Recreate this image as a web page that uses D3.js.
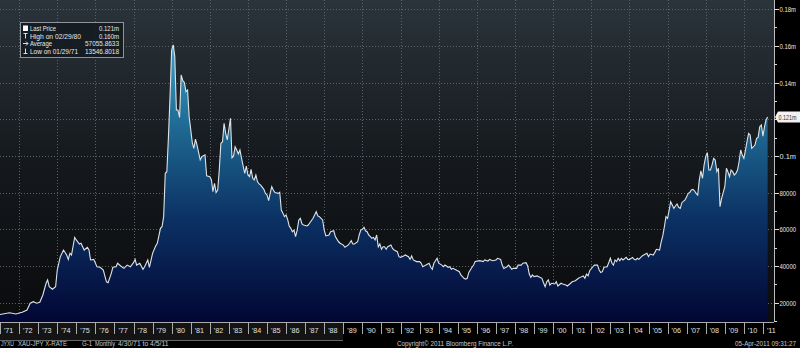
<!DOCTYPE html>
<html><head><meta charset="utf-8">
<script src="https://cdn.jsdelivr.net/npm/d3@7"></script>
<style>html,body{margin:0;padding:0;background:#000;overflow:hidden}</style>
</head><body><svg id="c" width="800" height="348"></svg>
<script>
const dates = ["1971-01","1971-07","1971-11","1972-03","1972-06","1972-08","1972-10","1972-12","1973-02","1973-04","1973-06","1973-07","1973-08","1973-10","1973-12",
"1974-01","1974-03","1974-05","1974-07","1974-08","1974-09","1974-10","1974-12","1975-01","1975-03","1975-04","1975-06","1975-08","1975-09","1975-10","1975-12",
"1976-02","1976-04","1976-06","1976-08","1976-09","1976-11","1976-12","1977-02","1977-03","1977-05","1977-07","1977-09","1977-11","1978-01","1978-02","1978-03",
"1978-05","1978-07","1978-08","1978-10","1978-11","1979-01","1979-03","1979-04","1979-06","1979-07","1979-08","1979-09","1979-10","1979-11","1979-12",
"1980-01","1980-02","1980-03","1980-04","1980-05","1980-06","1980-07","1980-08","1980-09","1980-10","1980-11","1980-12","1981-02","1981-03","1981-04","1981-05",
"1981-07","1981-08","1981-10","1981-11","1982-01","1982-02","1982-03","1982-04","1982-05","1982-06","1982-07","1982-08","1982-09","1982-10","1982-11","1982-12",
"1983-02","1983-03","1983-04","1983-05","1983-06","1983-07","1983-08","1983-09","1983-10","1983-11","1983-12","1984-01","1984-02","1984-03","1984-04","1984-05",
"1984-06","1984-07","1984-08","1984-09","1984-11","1984-12","1985-01","1985-02","1985-03","1985-04","1985-05","1985-06","1985-08","1985-09","1985-10","1985-11",
"1985-12","1986-01","1986-02","1986-03","1986-04","1986-05","1986-06","1986-07","1986-08","1986-09","1986-10","1986-11","1986-12","1987-02","1987-03","1987-04",
"1987-06","1987-07","1987-08","1987-09","1987-10","1987-11","1987-12","1988-01","1988-02","1988-04","1988-05","1988-07","1988-08","1988-10","1988-11","1989-01",
"1989-02","1989-04","1989-05","1989-06","1989-07","1989-08","1989-10","1989-11","1989-12","1990-01","1990-02","1990-03","1990-04","1990-05","1990-07","1990-08",
"1990-09","1990-10","1990-11","1990-12","1991-01","1991-02","1991-03","1991-04","1991-05","1991-07","1991-08","1991-09","1991-11","1991-12","1992-01","1992-03",
"1992-04","1992-06","1992-07","1992-08","1992-09","1992-11","1993-01","1993-02","1993-03","1993-05","1993-07","1993-08","1993-09","1993-10","1993-12","1994-01",
"1994-03","1994-04","1994-05","1994-07","1994-08","1994-09","1994-10","1994-12","1995-02","1995-03","1995-05","1995-06","1995-07","1995-08","1995-10","1995-11",
"1995-12","1996-02","1996-03","1996-05","1996-06","1996-08","1996-09","1996-11","1997-01","1997-02","1997-04","1997-05","1997-06","1997-08","1997-09","1997-11",
"1997-12","1998-02","1998-03","1998-05","1998-06","1998-08","1998-09","1998-10","1998-11","1998-12","1999-01","1999-03","1999-04","1999-06","1999-07","1999-08",
"1999-09","1999-10","1999-11","1999-12","2000-02","2000-03","2000-04","2000-06","2000-07","2000-09","2000-10","2000-12","2001-01","2001-03","2001-05","2001-06",
"2001-08","2001-09","2001-10","2001-11","2001-12","2002-02","2002-03","2002-05","2002-06","2002-07","2002-08","2002-09","2002-11","2002-12","2003-01","2003-02",
"2003-03","2003-04","2003-05","2003-06","2003-07","2003-08","2003-09","2003-11","2003-12","2004-01","2004-03","2004-04","2004-05","2004-06","2004-07","2004-09",
"2004-10","2004-12","2005-01","2005-02","2005-04","2005-05","2005-06","2005-08","2005-09","2005-10","2005-11","2005-12","2006-01","2006-02","2006-03","2006-04",
"2006-05","2006-06","2006-07","2006-08","2006-09","2006-10","2006-12","2007-01","2007-02","2007-03","2007-04","2007-05","2007-06","2007-07","2007-08","2007-09",
"2007-10","2007-11","2007-12","2008-01","2008-02","2008-03","2008-04","2008-05","2008-06","2008-07","2008-08","2008-09","2008-10","2008-11","2009-01","2009-02",
"2009-03","2009-04","2009-05","2009-06","2009-07","2009-08","2009-09","2009-10","2009-11","2009-12","2010-01","2010-02","2010-03","2010-04","2010-05","2010-06",
"2010-08","2010-09","2010-10","2010-11","2010-12","2011-01","2011-02","2011-03","2011-04"];
const prices = [13550,14550,13840,14770,16000,19700,20550,19700,20200,24200,30600,32400,28700,27300,28700,
37800,45100,48700,46000,43600,46900,46000,55600,54200,52000,52400,48700,50200,48700,43300,43600,
39600,39300,37800,31400,30900,36000,39300,39600,41500,40000,38700,40500,39600,41800,43600,40500,
41500,38200,39600,43300,39300,46900,50900,52400,60500,61400,66900,90500,91400,110500,132300,
157700,160500,154100,125000,125000,121000,144100,141000,140000,135000,135900,121400,106900,104100,109100,105900,
97800,99600,100500,89100,88700,86900,80500,85100,80000,81400,92300,106900,107700,117800,112300,108700,
120500,99000,100000,105000,103200,101000,103200,98700,94500,90500,94500,89600,88700,92700,87800,86900,
89600,86000,84700,84100,81800,79600,78700,75600,79600,83200,81400,80000,79600,80200,70500,68700,
66900,67800,65100,61800,60500,58700,59600,56000,59600,65100,66000,62900,62300,61800,62300,63600,
66000,67800,69600,67300,66900,66000,65100,59600,56400,56900,58700,59200,56000,53200,52400,51400,
50200,51400,52400,53800,52000,52000,53200,56900,59600,60000,61100,59200,58700,56900,55100,55600,
54200,56900,50500,52000,49100,50500,50500,49100,50500,51400,49600,48700,47800,45100,44700,45500,
46000,45100,43600,45500,43300,42400,42400,41500,39600,40500,41500,39300,38200,41500,44200,41500,
40500,39600,40500,39300,39600,38200,38700,37800,36900,35100,33300,32800,33300,36500,39300,40500,
42500,42800,42900,42400,43300,42700,43600,42900,43300,44200,43600,40500,38700,39600,40500,38200,
38700,38700,40500,40500,41500,41800,40000,35600,33800,35100,34200,34600,34200,33300,30900,28700,
31400,32400,29600,30600,30200,31400,29100,30600,30200,29600,29100,30600,31400,32000,33300,33800,
34600,33300,35600,34600,37400,39600,40500,40500,37800,36400,36900,39300,39600,41800,44200,41500,
40500,43300,42400,44200,42900,44200,43300,44700,43600,43500,44700,43600,43300,44200,43600,45500,
46000,46900,45100,46500,46000,47300,49100,48700,53200,56400,61400,66900,66000,70500,75000,73200,
71400,72700,73800,72000,71400,74500,76000,77800,79600,80000,81400,81800,81000,79600,78700,86900,
91900,87800,95000,99600,101800,92300,92300,95000,98700,97800,91400,93300,72300,76900,83200,93300,
91400,88700,92300,91400,89600,90500,92300,96800,103200,100500,98700,103200,107700,112300,111400,104100,
105900,109600,110100,115900,116800,110800,115900,119600,121200];

const yTickValues = [20000,40000,60000,80000,100000,120000,140000,160000,180000];
const yTickLabels = ["20000","40000","60000","80000","0.1m","","0.14m","0.16m","0.18m"];
const xYears = d3.range(1971, 2012);
const xTickLabels = xYears.map(y => "'" + String(y).slice(2));
const legendLabels = ["Last Price","High on 02/29/80","Average","Low on 01/29/71"];
const legendValues = ["0.121m","0.160m","57055.8633","13546.8018"];
const lastPriceLabel = "0.121m";
const footerLeft = ["JYXU","XAU-JPY X-RATE","G-1","Monthly","4/30/71 to 4/5/11"];
const footerCenter = "Copyright\u00A9 2011 Bloomberg Finance L.P.";
const footerRight = "05-Apr-2011 09:31:27";

const W = 800, H = 348, PR = 774, PB = 322;
const FONT = "'Liberation Sans', Arial, sans-serif";
const parse = d3.timeParse("%Y-%m");
const data = dates.map((d, i) => ({date: parse(d), v: prices[i]}));

// squeeze a text to at most w pixels wide
function fit(sel, wf) {
  sel.each(function(d, i) {
    const w = typeof wf === "function" ? wf(d, i) : wf;
    const n = this.getComputedTextLength();
    if (n > w) { this.setAttribute("textLength", w); this.setAttribute("lengthAdjust", "spacingAndGlyphs"); }
  });
}

const x = d3.scaleTime().domain([new Date(1971,0,1), new Date(2011,7,1)]).range([0, PR]);
const y = d3.scaleLinear().domain([9480, 184960]).range([PB, 0]);

const svg = d3.select("#c");
const defs = svg.append("defs");
const bg = defs.append("linearGradient").attr("id","bg").attr("x1",0).attr("y1",0).attr("x2",0).attr("y2",1);
bg.append("stop").attr("offset",0).attr("stop-color","#2a343b");
bg.append("stop").attr("offset",0.5).attr("stop-color","#15191d");
bg.append("stop").attr("offset",1).attr("stop-color","#0a0b0d");
const ag = defs.append("linearGradient").attr("id","ag").attr("gradientUnits","userSpaceOnUse")
  .attr("x1",0).attr("y1",40).attr("x2",0).attr("y2",PB);
ag.append("stop").attr("offset",0).attr("stop-color","#3ea0c8");
ag.append("stop").attr("offset",0.3).attr("stop-color","#1f6b94");
ag.append("stop").attr("offset",0.62).attr("stop-color","#0c3366");
ag.append("stop").attr("offset",1).attr("stop-color","#020634");

svg.append("rect").attr("width",W).attr("height",H).attr("fill","#000");
svg.append("rect").attr("x",0).attr("y",0).attr("width",PR).attr("height",PB).attr("fill","url(#bg)");

// grid
const grid = svg.append("g").attr("stroke","#5a6268").attr("stroke-dasharray","1,2").attr("stroke-width",1);
grid.selectAll("line.h").data(yTickValues).join("line")
  .attr("x1",0).attr("x2",PR).attr("y1",d=>Math.round(y(d))+0.5).attr("y2",d=>Math.round(y(d))+0.5);
grid.selectAll("line.v").data(xYears.filter(yr => yr % 2 === 0)).join("line")
  .attr("y1",0).attr("y2",PB)
  .attr("x1",d=>Math.round(x(new Date(d,0,1)))+0.5).attr("x2",d=>Math.round(x(new Date(d,0,1)))+0.5);

// area + line
const area = d3.area().x(d=>x(d.date)).y0(PB).y1(d=>y(d.v));
const line = d3.line().x(d=>x(d.date)).y(d=>y(d.v));
svg.append("path").datum(data).attr("d",area).attr("fill","url(#ag)");
svg.append("path").datum(data).attr("d",line).attr("fill","none").attr("stroke","#dde3e8").attr("stroke-width",1.1);

// right axis
const ra = svg.append("g");
ra.append("line").attr("x1",PR+0.5).attr("x2",PR+0.5).attr("y1",0).attr("y2",PB).attr("stroke","#bbb");
const minor = d3.range(10000, 185000, 10000);
ra.selectAll("line.t").data(minor).join("line")
  .attr("x1",PR+0.5).attr("x2",d=> d % 20000 === 0 ? PR+5 : PR+3)
  .attr("y1",d=>Math.round(y(d))+0.5).attr("y2",d=>Math.round(y(d))+0.5)
  .attr("stroke","#ddd");
const rt = ra.selectAll("text").data(yTickValues).join("text")
  .attr("x",PR+5.5).attr("y",d=>y(d)+3).text((d,i)=>yTickLabels[i])
  .attr("fill","#e6e6e6").attr("font-size",7.8).attr("font-family",FONT);
fit(rt, 16.5);

// last price tag
const ly = y(prices[prices.length-1]);
svg.append("path").attr("d",`M${PR+1},${ly} L${PR+4},${ly-5.5} L${W},${ly-5.5} L${W},${ly+5.5} L${PR+4},${ly+5.5} Z`).attr("fill","#f2f2f2");
fit(svg.append("text").attr("x",PR+4.5).attr("y",ly+2.8).text(lastPriceLabel)
  .attr("fill","#333").attr("font-size",7.5).attr("font-family",FONT), 18);

// x axis
svg.append("rect").attr("x",0).attr("y",PB+1).attr("width",343).attr("height",18).attr("fill","#141414");
svg.append("line").attr("x1",0).attr("x2",PR).attr("y1",PB+0.5).attr("y2",PB+0.5).attr("stroke","#aaa");
svg.append("line").attr("x1",0).attr("x2",343).attr("y1",340.5).attr("y2",340.5).attr("stroke","#666");
const xa = svg.append("g");
xa.selectAll("line").data(xYears).join("line")
  .attr("x1",d=>Math.round(x(new Date(d,0,1)))+0.5).attr("x2",d=>Math.round(x(new Date(d,0,1)))+0.5)
  .attr("y1",PB).attr("y2",PB+12).attr("stroke","#aaa");
xa.selectAll("text").data(xYears).join("text")
  .attr("x",d=>x(new Date(d,0,1))+4).attr("y",PB+11).text((d,i)=>xTickLabels[i])
  .attr("fill","#e0e0e0").attr("font-size",7.2).attr("font-family",FONT);

// legend
const lg = svg.append("g");
lg.append("rect").attr("x",20.5).attr("y",22.5).attr("width",103).attr("height",35)
  .attr("fill","#141b20").attr("fill-opacity",0.9).attr("stroke","#8d949a");
const rowY = [31, 38.5, 46, 53.5];
const labelW = [26, 51, 22, 48];
const valueW = [20, 20, 34, 34];
fit(lg.selectAll("text.l").data(legendLabels).join("text")
  .attr("x",30).attr("y",(d,i)=>rowY[i]).text(d=>d)
  .attr("fill","#e8e8e8").attr("font-size",7.6).attr("font-family",FONT), (d,i)=>labelW[i]);
fit(lg.selectAll("text.v").data(legendValues).join("text")
  .attr("x",119).attr("y",(d,i)=>rowY[i]).attr("text-anchor","end").text(d=>d)
  .attr("fill","#e8e8e8").attr("font-size",7.6).attr("font-family",FONT), (d,i)=>valueW[i]);
lg.append("rect").attr("x",23).attr("y",25.5).attr("width",5).attr("height",5.5).attr("fill","#fff");
const gl = lg.append("g").attr("stroke","#ddd").attr("stroke-width",1).attr("fill","none");
gl.append("path").attr("d","M23.5,33.5 H27.5 M25.5,33.5 V38.5");
gl.append("path").attr("d","M23,43.5 H28 M26,41.5 L28,43.5 L26,45.5");
gl.append("path").attr("d","M25.5,48.5 V53.5 M23.5,53.5 H27.5");

// footer
const fy = 345.5;
const fx = [1, 18, 82, 95, 118];
const fw = [13, 49, 10, 20, 55];
fit(svg.selectAll("text.f").data(footerLeft).join("text")
  .attr("x",(d,i)=>fx[i]).attr("y",fy).text(d=>d)
  .attr("fill","#c8c8c8").attr("font-size",6.8).attr("font-family",FONT), (d,i)=>fw[i]);
fit(svg.append("text").attr("x",397).attr("y",fy).text(footerCenter)
  .attr("fill","#c8c8c8").attr("font-size",6.8).attr("font-family",FONT), 116);
fit(svg.append("text").attr("x",796).attr("y",fy).attr("text-anchor","end").text(footerRight)
  .attr("fill","#c8c8c8").attr("font-size",6.8).attr("font-family",FONT), 61);
</script></body></html>
